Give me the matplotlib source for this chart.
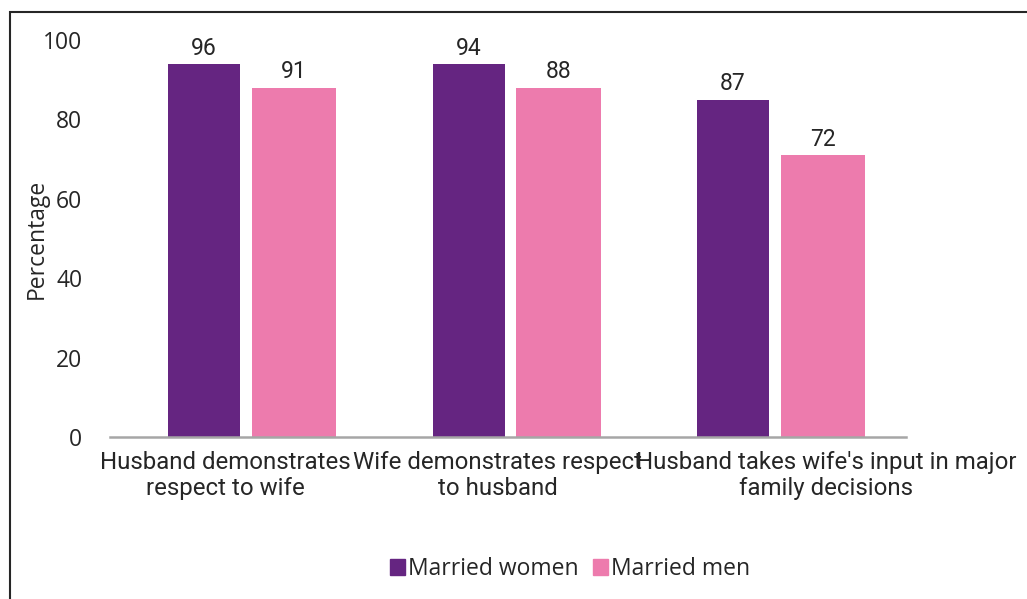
import numpy as np
import matplotlib
matplotlib.use('Agg')
import matplotlib.pyplot as plt
from matplotlib.patches import Patch, Rectangle
from matplotlib.transforms import ScaledTranslation

# categories and values
categories = ['Husband demonstrates\nrespect to wife',
              'Wife demonstrates respect\nto husband',
              "Husband takes wife's input in major\nfamily decisions"]
women = [94, 94, 85]          # bar heights as drawn
men = [88, 88, 71]
women_text = ['96', '94', '87']   # printed labels
men_text = ['91', '88', '72']
series = ['Married women', 'Married men']
yticks = [0, 20, 40, 60, 80, 100]

purple = '#652581'
pink = '#ed7bad'
txt = '#262626'

fig = plt.figure(figsize=(10.27, 5.99), dpi=100)
ax = fig.add_axes([0.1071, 0.2705, 0.7751, 0.6627])

x = np.arange(len(categories))
b1 = ax.bar(x - 0.181, women, width=0.272, color=purple)
b2 = ax.bar(x + 0.159, men, width=0.318, color=pink)

for bars, labs in ((b1, women_text), (b2, men_text)):
    for r, s in zip(bars, labs):
        ax.annotate(s, (r.get_x() + r.get_width() / 2, r.get_height()),
                    xytext=(0, 3), textcoords='offset points',
                    ha='center', va='bottom', fontsize=16.5,
                    family='Roboto', color=txt)

ax.set_xlim(-0.537, 2.473)
ax.set_ylim(0, 100)
ax.set_yticks(yticks)
ax.set_yticklabels([str(v) for v in yticks], family='Open Sans', fontsize=16.5, color=txt)
ax.set_xticks(x)
ax.set_xticklabels(categories, family='Roboto', fontsize=17.3, color=txt)
ax.tick_params(axis='both', length=0)
ax.tick_params(axis='x', pad=10)
ax.tick_params(axis='y', pad=20)
ax.set_ylabel('Percentage', family='Open Sans', fontsize=16.5, color=txt, labelpad=-4)

# the category labels sit a little off the bar groups in the original
shifts = [-27, -19, 45]
for lab, dx in zip(ax.get_xticklabels(), shifts):
    lab.set_transform(lab.get_transform() + ScaledTranslation(dx / 100, 0, fig.dpi_scale_trans))

for s in ['top', 'right', 'left']:
    ax.spines[s].set_visible(False)
ax.spines['bottom'].set_color('#a6a6a6')
ax.spines['bottom'].set_linewidth(1.8)

handles = [Patch(color=purple), Patch(color=pink)]
fig.legend(handles, series, loc='center', bbox_to_anchor=(0.555, 0.05),
           ncol=2, frameon=False, handlelength=0.65, handleheight=0.65,
           handletextpad=0.15, columnspacing=0.6,
           prop={'family': 'Open Sans', 'size': 16.5}, labelcolor=txt)

# outer border, only left and top edges visible
fig.patches.append(Rectangle((9.5 / 1027, -0.2), 1.5, 0.2 + (599 - 12) / 599,
                             transform=fig.transFigure, fill=False,
                             edgecolor=txt, linewidth=1.5))

fig.savefig('out.png', dpi=100)
